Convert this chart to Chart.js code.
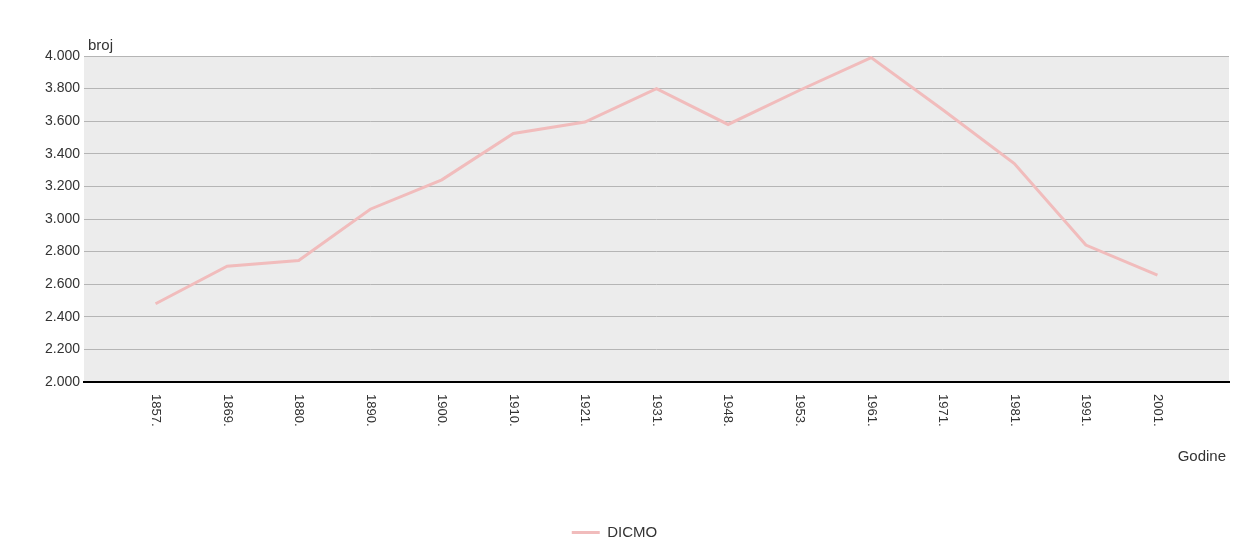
<!DOCTYPE html>
<html>
<head>
<meta charset="utf-8">
<script src="https://cdn.jsdelivr.net/npm/chart.js@4.4.1/dist/chart.umd.min.js"></script>
<style>
html,body{margin:0;padding:0;background:#fff;}
#wrap{width:1244px;height:537px;position:relative;}
</style>
</head>
<body>
<div id="wrap"><canvas id="c" width="1244" height="537"></canvas></div>
<script>
const years = ['1857.','1869.','1880.','1890.','1900.','1910.','1921.','1931.','1948.','1953.','1961.','1971.','1981.','1991.','2001.'];
const dicmo = [2480, 2710, 2745, 3060, 3240, 3525, 3595, 3800, 3580, 3790, 3990, 3670, 3340, 2840, 2655];
const yTicks = [2000, 2200, 2400, 2600, 2800, 3000, 3200, 3400, 3600, 3800, 4000];
const seriesName = 'DICMO';
const yTitle = 'broj';
const xTitle = 'Godine';

const FONT = '"Liberation Sans", Arial, sans-serif';
const TXT = '#333';

const decor = {
  id: 'decor',
  beforeDraw(chart) {
    const {ctx, chartArea: a} = chart;
    ctx.save();
    ctx.fillStyle = '#ececec';
    ctx.fillRect(a.left, a.top, a.right - a.left, a.bottom - a.top);
    ctx.restore();
  },
  afterDraw(chart) {
    const {ctx, chartArea: a} = chart;
    const xs = chart.scales.x;
    ctx.save();
    ctx.fillStyle = TXT;
    ctx.font = '13px ' + FONT;
    years.forEach((lab, i) => {
      const x = xs.getPixelForValue(i);
      ctx.save();
      ctx.translate(x, a.bottom + 12);
      ctx.rotate(Math.PI / 2);
      ctx.textAlign = 'left';
      ctx.textBaseline = 'middle';
      ctx.fillText(lab, 0, 0);
      ctx.restore();
    });
    ctx.font = '15px ' + FONT;
    ctx.textAlign = 'left';
    ctx.textBaseline = 'bottom';
    ctx.fillText(yTitle, a.left + 4, a.top - 3);
    ctx.textAlign = 'right';
    ctx.textBaseline = 'middle';
    ctx.fillText(xTitle, a.right - 3, a.bottom + 75);
    ctx.restore();
  }
};

new Chart(document.getElementById('c'), {
  type: 'line',
  data: {
    datasets: [{
      label: seriesName,
      data: dicmo.map((v, i) => ({x: i, y: v})),
      borderColor: '#f1bcbc',
      backgroundColor: '#f1bcbc',
      borderWidth: 3,
      pointRadius: 0,
      pointHoverRadius: 0,
      tension: 0,
      fill: false
    }]
  },
  options: {
    responsive: false,
    animation: false,
    layout: {padding: {left: 0, right: 15, top: 56, bottom: -13}},
    plugins: {
      tooltip: {enabled: false},
      legend: {
        position: 'bottom',
        labels: {
          usePointStyle: true,
          pointStyle: 'line',
          pointStyleWidth: 28,
          color: TXT,
          font: {family: FONT, size: 15},
          padding: 4
        }
      }
    },
    scales: {
      x: {
        type: 'linear',
        min: -1,
        max: years.length,
        ticks: {display: false, stepSize: 1},
        grid: {display: false},
        border: {display: true, color: '#000', width: 2},
        afterFit(s) { s.height = 139; }
      },
      y: {
        min: yTicks[0],
        max: yTicks[yTicks.length - 1],
        afterBuildTicks(s) { s.ticks = yTicks.map(v => ({value: v})); },
        ticks: {
          color: TXT,
          padding: 4,
          font: {family: FONT, size: 14},
          callback: v => String(v).replace(/\B(?=(\d{3})+(?!\d))/g, '.')
        },
        grid: {color: '#b5b5b5', lineWidth: 1, drawTicks: false},
        border: {display: false},
        afterFit(s) { s.width = 84; }
      }
    }
  },
  plugins: [decor]
});
</script>
</body>
</html>
